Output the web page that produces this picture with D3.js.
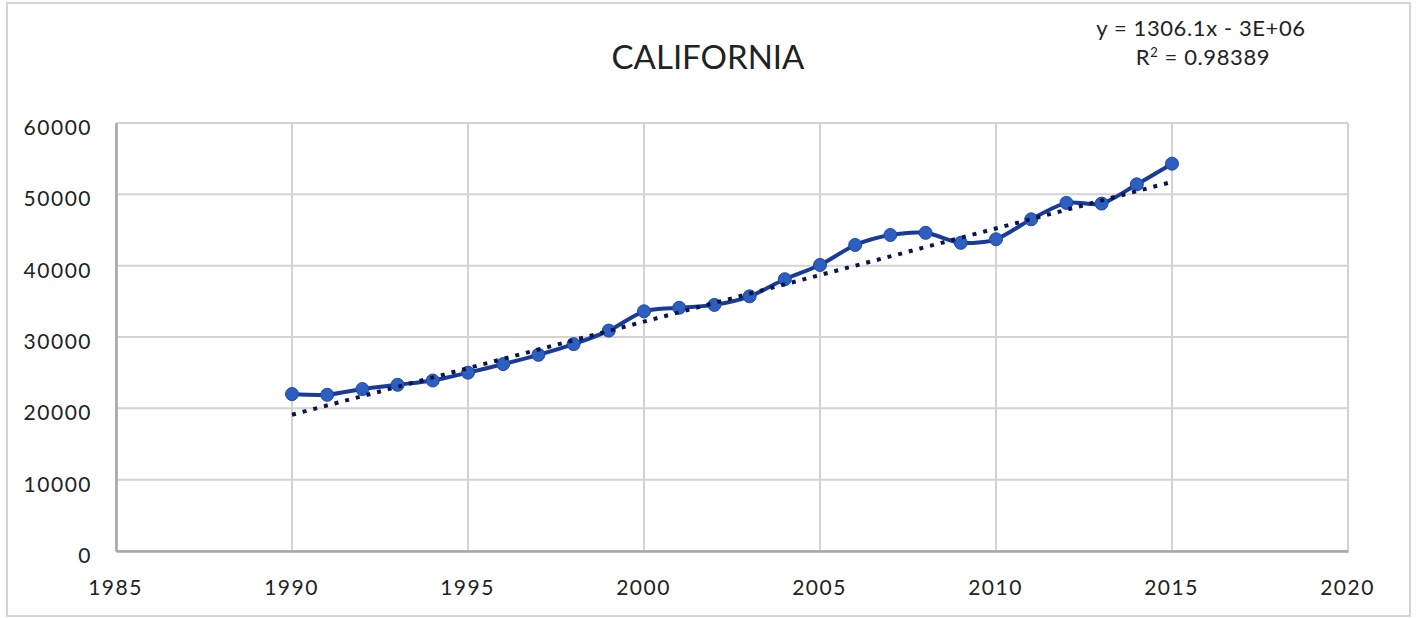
<!DOCTYPE html>
<html>
<head>
<meta charset="utf-8">
<script src="https://cdn.jsdelivr.net/npm/d3@7"></script>
<style>
  body { margin: 0; background: #fff; }
  text { font-family: Lato, "Open Sans", sans-serif; fill: #222; }
</style>
</head>
<body>
<div id="chart"></div>
<script>
(function() {
  // data
  var years = [1990, 1991, 1992, 1993, 1994, 1995, 1996, 1997, 1998, 1999, 2000, 2001, 2002,
               2003, 2004, 2005, 2006, 2007, 2008, 2009, 2010, 2011, 2012, 2013, 2014, 2015]
  var values = [22000, 21900, 22700, 23300, 23900, 25000, 26200, 27500, 29000, 30900, 33600, 34100, 34500,
                35700, 38100, 40100, 42900, 44300, 44600, 43200, 43700, 46500, 48800, 48700, 51400, 54300]
  var trendYears = [1990, 2015]
  var trendValues = [19100, 51750]
  var xTicks = [1985, 1990, 1995, 2000, 2005, 2010, 2015, 2020]
  var yTicks = [0, 10000, 20000, 30000, 40000, 50000, 60000]
  var title = "CALIFORNIA"
  var equation = "y = 1306.1x - 3E+06"

  var widthSvg = 1416
  var heightSvg = 618
  var margin = { top: 123, left: 116, right: 68, bottom: 67 }
  var widthScale = widthSvg - margin.left - margin.right
  var heightScale = heightSvg - margin.top - margin.bottom

  var mainSvg = d3.select("#chart").append("svg")
    .attr("width", widthSvg)
    .attr("height", heightSvg)

  // outer chart border
  mainSvg.append("rect")
    .attr("x", 7).attr("y", 3)
    .attr("width", 1403).attr("height", 613)
    .attr("fill", "none")
    .attr("stroke", "#d4d4d4")
    .attr("stroke-width", 2)

  var mainG = mainSvg.append("g")
    .attr("transform", "translate(" + margin.left + "," + margin.top + ")")

  var xPositionScale = d3.scaleLinear().domain([1985, 2020]).range([0, widthScale])
  var yPositionScale = d3.scaleLinear().domain([0, 60000]).range([heightScale, 0])

  var data = years.map(function(y, i) { return { year: y, value: values[i] } })
  var trend = trendYears.map(function(y, i) { return { year: y, value: trendValues[i] } })

  // gridlines
  mainG.append("g").selectAll("line.hgrid")
    .data(yTicks).enter().append("line")
    .attr("x1", 0).attr("x2", widthScale)
    .attr("y1", function(d) { return yPositionScale(d) })
    .attr("y2", function(d) { return yPositionScale(d) })
    .attr("stroke", "#d3d3d3").attr("stroke-width", 2)

  mainG.append("g").selectAll("line.vgrid")
    .data(xTicks).enter().append("line")
    .attr("y1", 0).attr("y2", heightScale)
    .attr("x1", function(d) { return xPositionScale(d) })
    .attr("x2", function(d) { return xPositionScale(d) })
    .attr("stroke", "#d3d3d3").attr("stroke-width", 2)

  // axes
  var xAxis = d3.axisBottom(xPositionScale).tickValues(xTicks).tickFormat(d3.format("d")).tickSize(0)
  var yAxis = d3.axisLeft(yPositionScale).tickValues(yTicks).tickFormat(d3.format("d")).tickSize(0).tickPadding(24)

  var gx = mainG.append("g")
    .attr("transform", "translate(0," + heightScale + ")")
    .call(xAxis)
  var gy = mainG.append("g").call(yAxis)

  gx.select(".domain").attr("stroke", "#a6a6a6").attr("stroke-width", 2.5)
  gy.select(".domain").attr("stroke", "#a6a6a6").attr("stroke-width", 2.5)
  mainG.selectAll(".tick text")
    .style("font-family", "Lato, 'Open Sans', sans-serif")
    .style("font-size", "21px")
    .style("letter-spacing", "1.5px")
    .attr("fill", "#222")
  gx.selectAll(".tick text").attr("y", 44).attr("dy", 0).attr("dx", -1)
  gy.selectAll(".tick text").attr("dy", "0.55em")

  // smoothed series
  var line = d3.line()
    .x(function(d) { return xPositionScale(d.year) })
    .y(function(d) { return yPositionScale(d.value) })
    .curve(d3.curveCardinal.tension(0.2))

  mainG.append("path")
    .datum(data)
    .attr("d", line)
    .attr("fill", "none")
    .attr("stroke", "#183b97")
    .attr("stroke-width", 4)

  mainG.append("g").selectAll("circle")
    .data(data).enter().append("circle")
    .attr("cx", function(d) { return xPositionScale(d.year) })
    .attr("cy", function(d) { return yPositionScale(d.value) })
    .attr("r", 6.5)
    .attr("fill", "#2c5fc0")
    .attr("stroke", "#1d48a8")
    .attr("stroke-width", 1)

  // linear trendline
  var trendLine = d3.line()
    .x(function(d) { return xPositionScale(d.year) })
    .y(function(d) { return yPositionScale(d.value) })

  mainG.append("path")
    .datum(trend)
    .attr("d", trendLine)
    .attr("fill", "none")
    .attr("stroke", "#0b1450")
    .attr("stroke-width", 4)
    .attr("stroke-dasharray", "4,7")

  // title + equation
  mainSvg.append("text")
    .attr("x", 708).attr("y", 69)
    .attr("text-anchor", "middle")
    .style("font-size", "33px")
    .text(title)

  var eq = mainSvg.append("text")
    .attr("text-anchor", "middle")
    .style("font-size", "22px")
    .style("letter-spacing", "0.6px")
  eq.append("tspan").attr("x", 1201).attr("y", 36).text(equation)
  var r2 = eq.append("tspan").attr("x", 1203).attr("y", 65)
  r2.append("tspan").text("R")
  r2.append("tspan").attr("dy", -8).style("font-size", "13px").text("2")
  r2.append("tspan").attr("dy", 8).text(" = 0.98389")
})();
</script>
</body>
</html>
